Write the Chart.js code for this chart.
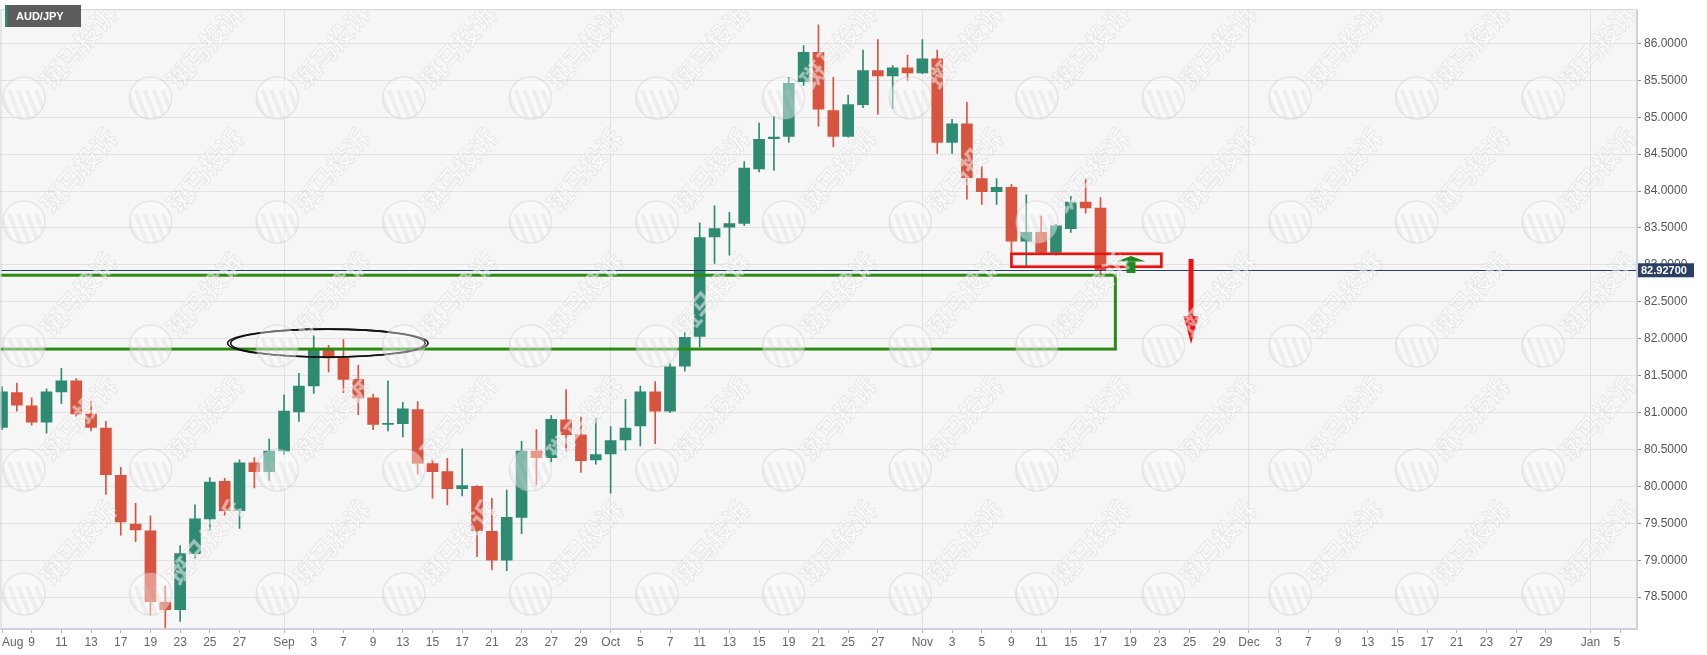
<!DOCTYPE html>
<html>
<head>
<meta charset="utf-8">
<script src="https://cdn.jsdelivr.net/npm/chart.js@4.4.0/dist/chart.umd.min.js"></script>
<style>
  html, body { margin: 0; padding: 0; background: #fff; }
  #wrap { width: 1707px; height: 655px; }
</style>
</head>
<body>
<div id="wrap"><canvas id="chart" width="1707" height="655"></canvas></div>
<script>
// AUD/JPY daily candles, one per weekday starting at firstDay
const symbol = "AUD/JPY";
const firstDay = "2021-08-05";

const opens = [
  80.80, 81.27, 81.09, 80.87, 81.28, 81.43, 80.98, 80.79, 80.15, 79.49,
  79.40, 78.43, 78.33, 79.09, 79.56, 80.07, 79.67, 80.32, 80.20, 80.48,
  81.01, 81.36, 81.86, 81.74, 81.45, 81.20, 80.84, 80.85, 81.04, 80.31,
  80.20, 79.97, 80.00, 79.39, 79.00, 79.58, 80.48, 80.39, 80.90, 80.70,
  80.36, 80.44, 80.63, 80.82, 81.28, 81.02, 81.63, 82.03, 83.38, 83.51,
  83.56, 84.30, 84.71, 84.74, 85.48, 85.88, 85.09, 84.74, 85.17, 85.63,
  85.56, 85.67, 85.60, 85.79, 84.66, 84.91, 84.17, 83.99, 84.05, 83.32,
  83.44, 83.17, 83.49, 83.85, 83.77
];
const highs = [
  81.35, 81.40, 81.20, 81.32, 81.60, 81.46, 81.15, 80.88, 80.26, 79.77,
  79.60, 78.65, 79.20, 79.75, 80.12, 80.11, 80.36, 80.39, 80.64, 81.24,
  81.53, 82.04, 81.91, 81.99, 81.64, 81.25, 81.43, 81.14, 81.15, 80.36,
  80.38, 80.51, 80.01, 79.84, 79.95, 80.61, 80.77, 80.96, 81.31, 80.94,
  80.92, 80.81, 81.18, 81.36, 81.42, 81.66, 82.09, 83.57, 83.80, 83.71,
  84.40, 84.92, 85.01, 85.54, 85.97, 86.25, 85.54, 85.30, 85.91, 86.05,
  85.70, 85.84, 86.05, 85.91, 84.97, 85.20, 84.33, 84.17, 84.09, 83.95,
  83.66, 83.55, 83.93, 84.17, 83.91
];
const lows = [
  80.77, 81.02, 80.83, 80.72, 81.12, 80.95, 80.75, 79.89, 79.34, 79.25,
  78.26, 78.00, 78.17, 79.03, 79.40, 79.61, 79.43, 79.98, 80.08, 80.43,
  80.88, 81.26, 81.55, 81.27, 80.97, 80.77, 80.75, 80.67, 80.17, 79.84,
  79.75, 79.87, 79.05, 78.87, 78.86, 79.36, 80.02, 80.33, 80.48, 80.19,
  80.30, 79.91, 80.49, 80.55, 80.58, 81.00, 81.56, 81.89, 83.02, 83.13,
  83.53, 84.26, 84.28, 84.66, 85.43, 84.88, 84.60, 84.73, 85.13, 85.04,
  85.12, 85.49, 85.59, 84.51, 84.51, 83.89, 83.82, 83.82, 83.15, 82.98,
  83.15, 83.13, 83.44, 83.70, 82.83
];
const closes = [
  81.28, 81.10, 80.87, 81.28, 81.43, 80.98, 80.80, 80.16, 79.52, 79.41,
  78.44, 78.33, 79.09, 79.56, 80.06, 79.67, 80.32, 80.20, 80.48, 81.02,
  81.36, 81.86, 81.74, 81.45, 81.20, 80.84, 80.855, 81.05, 80.31, 80.20,
  79.97, 80.01, 79.40, 79.00, 79.58, 80.48, 80.39, 80.91, 80.70, 80.35,
  80.43, 80.62, 80.79, 81.28, 81.02, 81.62, 82.02, 83.37, 83.49, 83.56,
  84.31, 84.70, 84.73, 85.46, 85.88, 85.11, 84.74, 85.17, 85.63, 85.56,
  85.67, 85.60, 85.79, 84.66, 84.91, 84.18, 83.99, 84.05, 83.32, 83.44,
  83.17, 83.53, 83.85, 83.77, 82.927
];
const lastPrice = 82.927;

// axis ticks
const yTicks = [78.5, 79, 79.5, 80, 80.5, 81, 81.5, 82, 82.5, 83, 83.5, 84, 84.5, 85, 85.5, 86];
const xTickDates = [
  "2021-08-05", "2021-08-09", "2021-08-11", "2021-08-13", "2021-08-17", "2021-08-19", "2021-08-23", "2021-08-25", "2021-08-27",
  "2021-09-01", "2021-09-03", "2021-09-07", "2021-09-09", "2021-09-13", "2021-09-15", "2021-09-17", "2021-09-21", "2021-09-23", "2021-09-27", "2021-09-29",
  "2021-10-01", "2021-10-05", "2021-10-07", "2021-10-11", "2021-10-13", "2021-10-15", "2021-10-19", "2021-10-21", "2021-10-25", "2021-10-27",
  "2021-11-01", "2021-11-03", "2021-11-05", "2021-11-09", "2021-11-11", "2021-11-15", "2021-11-17", "2021-11-19", "2021-11-23", "2021-11-25", "2021-11-29",
  "2021-12-01", "2021-12-03", "2021-12-07", "2021-12-09", "2021-12-13", "2021-12-15", "2021-12-17", "2021-12-21", "2021-12-23", "2021-12-27", "2021-12-29",
  "2022-01-03", "2022-01-05"
];
const xTickText = [
  "Aug", "9", "11", "13", "17", "19", "23", "25", "27",
  "Sep", "3", "7", "9", "13", "15", "17", "21", "23", "27", "29",
  "Oct", "5", "7", "11", "13", "15", "19", "21", "25", "27",
  "Nov", "3", "5", "9", "11", "15", "17", "19", "23", "25", "29",
  "Dec", "3", "7", "9", "13", "15", "17", "21", "23", "27", "29",
  "Jan", "5"
];
const monthNames = ["Sep", "Oct", "Nov", "Dec", "Jan"];

// drawn annotations (prices and trading-day positions)
const zoneTop = 82.86;
const zoneBottom = 81.86;
const zoneEnd = "2021-11-18";
const ellipseDays = [15.2, 28.7];
const ellipsePrices = [82.13, 81.75];
const boxDays = [68.0, 78.1];
const boxPrices = [83.15, 82.975];
const upArrowDay = 76.05;
const upArrowPrices = [82.89, 83.12];
const downArrowDay = 80.1;
const downArrowPrices = [83.08, 81.93];

const green = "#2f8a72";
const red = "#d9543f";

function dayIndex(d) {
  const start = new Date(firstDay + "T00:00:00Z");
  const end = new Date(d + "T00:00:00Z");
  let n = 0;
  for (let t = new Date(start); t < end; t.setUTCDate(t.getUTCDate() + 1)) {
    const wd = t.getUTCDay();
    if (wd !== 0 && wd !== 6) n++;
  }
  return n;
}

const candleColors = opens.map((o, i) => (closes[i] >= o ? green : red));
const monthIdx = new Set(xTickDates.filter((d, i) => monthNames.includes(xTickText[i])).map(dayIndex));

function drawWatermarks(ctx, a) {
  ctx.save();
  ctx.beginPath();
  ctx.rect(a.left, a.top, a.width, a.height);
  ctx.clip();
  for (let row = 0; row < 5; row++) {
    for (let col = 0; col < 14; col++) {
      const cx = 24 + col * 126.6;
      const cy = 98 + row * 124;
      ctx.save();
      ctx.beginPath();
      ctx.arc(cx, cy, 21, 0, Math.PI * 2);
      ctx.fillStyle = "rgba(255,255,255,0.4)";
      ctx.fill();
      ctx.lineWidth = 1.5;
      ctx.strokeStyle = "rgba(190,190,190,0.3)";
      ctx.stroke();
      ctx.clip();
      ctx.strokeStyle = "rgba(200,200,200,0.22)";
      ctx.lineWidth = 4;
      for (let k = -2; k <= 2; k++) {
        ctx.beginPath();
        ctx.moveTo(cx + k * 9 - 6, cy - 8);
        ctx.lineTo(cx + k * 9 + 6, cy + 22);
        ctx.stroke();
      }
      ctx.restore();

      ctx.save();
      ctx.translate(cx + 22, cy - 14);
      ctx.rotate(-0.86);
      ctx.font = 'bold 25px "Noto Sans CJK SC"';
      ctx.textBaseline = "middle";
      ctx.fillStyle = "rgba(255,255,255,0.5)";
      ctx.fillText("斑马投诉", 0, 0);
      ctx.lineWidth = 1;
      ctx.strokeStyle = "rgba(185,185,185,0.28)";
      ctx.strokeText("斑马投诉", 0, 0);
      ctx.restore();
    }
  }
  ctx.restore();
}

const overlay = {
  id: "overlay",
  beforeDraw(chart) {
    const { ctx, chartArea: a } = chart;
    ctx.save();
    ctx.fillStyle = "#fff";
    ctx.fillRect(0, 0, chart.width, chart.height);
    ctx.fillStyle = "#f6f6f7";
    ctx.fillRect(a.left, a.top, a.width, a.height);
    ctx.restore();
  },
  afterDatasetsDraw(chart) {
    const { ctx, chartArea: a, scales: { x, y } } = chart;
    ctx.save();
    ctx.beginPath();
    ctx.rect(a.left, a.top, a.width, a.height);
    ctx.clip();

    // current price line
    const py = Math.round(y.getPixelForValue(lastPrice)) + 0.5;
    ctx.strokeStyle = "#2b3f63";
    ctx.lineWidth = 1;
    ctx.beginPath();
    ctx.moveTo(a.left, py);
    ctx.lineTo(a.right, py);
    ctx.stroke();

    // green support zone
    const zx = x.getPixelForValue(dayIndex(zoneEnd));
    const zt = y.getPixelForValue(zoneTop);
    const zb = y.getPixelForValue(zoneBottom);
    ctx.strokeStyle = "#2b8a12";
    ctx.lineWidth = 3;
    ctx.strokeRect(a.left - 10, zt, zx - a.left + 10, zb - zt);

    // ellipse round the September highs
    const ex1 = x.getPixelForValue(ellipseDays[0]);
    const ex2 = x.getPixelForValue(ellipseDays[1]);
    const ey1 = y.getPixelForValue(ellipsePrices[0]);
    const ey2 = y.getPixelForValue(ellipsePrices[1]);
    const ecx = (ex1 + ex2) / 2, ecy = (ey1 + ey2) / 2;
    const erx = (ex2 - ex1) / 2, ery = (ey2 - ey1) / 2;
    ctx.strokeStyle = "#111";
    ctx.lineWidth = 1.6;
    ctx.beginPath();
    ctx.ellipse(ecx, ecy, erx, ery, 0, 0, Math.PI * 2);
    ctx.stroke();
    ctx.beginPath();
    ctx.ellipse(ecx, ecy, erx - 3, ery, 0, 0, Math.PI * 2);
    ctx.stroke();

    // red box
    const bx1 = x.getPixelForValue(boxDays[0]);
    const bx2 = x.getPixelForValue(boxDays[1]);
    const by1 = y.getPixelForValue(boxPrices[0]);
    const by2 = y.getPixelForValue(boxPrices[1]);
    ctx.strokeStyle = "#e8140f";
    ctx.lineWidth = 2.7;
    ctx.strokeRect(bx1, by1, bx2 - bx1, by2 - by1);

    // green up arrow
    const ux = x.getPixelForValue(upArrowDay);
    const uBase = y.getPixelForValue(upArrowPrices[0]);
    const uTip = y.getPixelForValue(upArrowPrices[1]);
    const uHead = uTip + 5.5;
    ctx.fillStyle = "#1f8a1f";
    ctx.fillRect(ux - 4.5, uHead, 9, uBase - uHead);
    ctx.beginPath();
    ctx.moveTo(ux - 14.5, uHead);
    ctx.lineTo(ux, uTip);
    ctx.lineTo(ux + 14.5, uHead);
    ctx.closePath();
    ctx.fill();

    // red down arrow
    const dx = x.getPixelForValue(downArrowDay);
    const dTop = y.getPixelForValue(downArrowPrices[0]);
    const dTip = y.getPixelForValue(downArrowPrices[1]);
    const dHead = dTip - 28;
    ctx.fillStyle = "#f01010";
    ctx.fillRect(dx - 2.5, dTop, 5, dHead - dTop);
    ctx.beginPath();
    ctx.moveTo(dx - 7.5, dHead);
    ctx.lineTo(dx + 7.5, dHead);
    ctx.lineTo(dx, dTip);
    ctx.closePath();
    ctx.fill();
    ctx.restore();

    drawWatermarks(ctx, a);

    // plot frame
    ctx.save();
    ctx.strokeStyle = "#cfd0dc";
    ctx.lineWidth = 1;
    ctx.strokeRect(a.left + 0.5, a.top - 0.5, a.width - 1, a.height);
    ctx.restore();
  },
  afterDraw(chart) {
    const { ctx, chartArea: a, scales: { y } } = chart;
    ctx.save();
    // last price tag
    const py = y.getPixelForValue(lastPrice);
    ctx.fillStyle = "#2b3f63";
    ctx.fillRect(a.right + 1, py - 7, 56, 14);
    ctx.fillStyle = "#fff";
    ctx.font = "bold 11px Arial, 'Liberation Sans', sans-serif";
    ctx.textAlign = "left";
    ctx.textBaseline = "middle";
    ctx.fillText(lastPrice.toFixed(5), a.right + 4, py + 0.5);

    // symbol badge
    ctx.fillStyle = "#5c5c5c";
    ctx.fillRect(5, 5, 76, 22);
    ctx.fillStyle = green;
    ctx.fillRect(5, 5, 2.5, 22);
    ctx.fillStyle = "#fff";
    ctx.font = "bold 11px Arial, 'Liberation Sans', sans-serif";
    ctx.fillText(symbol, 16, 16.5);
    ctx.restore();
  }
};

Chart.defaults.font.family = "Arial, 'Liberation Sans', sans-serif";

new Chart(document.getElementById("chart"), {
  type: "bar",
  data: {
    datasets: [
      {
        label: "body",
        data: opens.map((o, i) => ({ x: i, y: [o, closes[i]] })),
        backgroundColor: candleColors,
        borderWidth: 0,
        barThickness: 11,
        minBarLength: 1,
        grouped: false,
        order: 0
      },
      {
        label: "wick",
        data: lows.map((l, i) => ({ x: i, y: [l, highs[i]] })),
        backgroundColor: candleColors,
        borderWidth: 0,
        barThickness: 1,
        grouped: false,
        order: 1
      }
    ]
  },
  options: {
    responsive: false,
    animation: false,
    devicePixelRatio: 1,
    layout: { padding: { top: 1, left: 0, right: 0, bottom: 0 } },
    plugins: { legend: { display: false }, tooltip: { enabled: false } },
    scales: {
      x: {
        type: "linear",
        offset: false,
        min: -0.101,
        max: 110.14,
        afterBuildTicks: (s) => { s.ticks = xTickDates.map((d) => ({ value: dayIndex(d) })); },
        afterFit: (s) => { s.height = 26; },
        ticks: {
          autoSkip: false,
          maxRotation: 0,
          align: "inner",
          padding: 2,
          color: "#666",
          font: { size: 12 },
          callback: (v, i) => xTickText[i]
        },
        grid: {
          offset: false,
          color: (c) => (c.tick && monthIdx.has(c.tick.value) ? "#e1e1e5" : "rgba(0,0,0,0)"),
          tickColor: "#b5b5b5",
          tickLength: 4
        },
        border: { color: "#cfd0dc" }
      },
      y: {
        position: "right",
        min: 78.069,
        max: 86.449,
        afterBuildTicks: (s) => { s.ticks = yTicks.map((v) => ({ value: v })); },
        afterFit: (s) => { s.width = 70; },
        ticks: {
          padding: 3,
          color: "#555",
          font: { size: 12 },
          callback: (v) => Number(v).toFixed(4)
        },
        grid: { color: "#e2e2e5", tickColor: "#999", tickLength: 4 },
        border: { color: "#cfd0dc" }
      }
    }
  },
  plugins: [overlay]
});
</script>
</body>
</html>
